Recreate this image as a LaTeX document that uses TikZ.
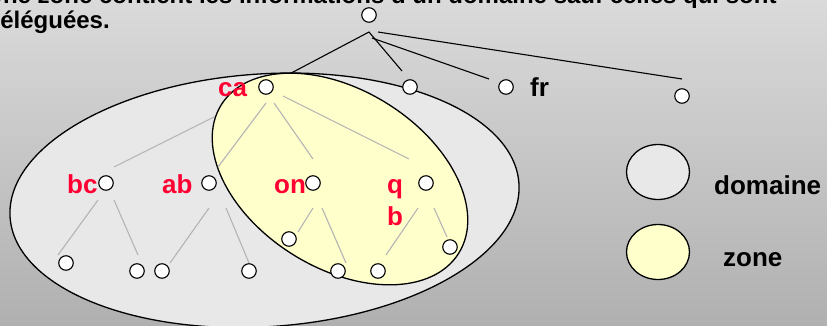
\documentclass[tikz,border=0pt]{standalone}
\usepackage{fontspec}
\setmainfont{Liberation Sans}
\usetikzlibrary{shapes.geometric}
\definecolor{bgtop}{RGB}{218,218,218}
\definecolor{bgbot}{RGB}{176,176,176}
\definecolor{domfill}{RGB}{232,232,232}
\definecolor{zonefill}{RGB}{255,255,204}
\definecolor{treegray}{RGB}{180,180,180}
\definecolor{lblred}{RGB}{255,0,51}
\tikzset{
  dot/.style={circle, draw=black, fill=white, line width=1.1pt, minimum size=14.5pt, inner sep=0pt},
  topline/.style={draw=black, line width=1.1pt},
  grayline/.style={draw=treegray, line width=1.1pt},
  outline/.style={draw=black, line width=1.3pt},
  redlbl/.style={inner sep=0pt, anchor=base west, text=lblred, font=\bfseries\fontsize{26}{31}\selectfont},
  blklbl/.style={inner sep=0pt, anchor=base west, text=black, font=\bfseries\fontsize{26}{31}\selectfont},
  titletxt/.style={inner sep=0pt, anchor=base west, text=black, font=\bfseries\fontsize{24}{28}\selectfont},
  legell/.style={ellipse, outline, minimum width=63pt, minimum height=55pt, inner sep=0pt}
}
\begin{document}
\begin{tikzpicture}[x=1pt,y=-1pt]
\useasboundingbox (0,0) rectangle (827,326);
\clip (0,0) rectangle (827,326);
\shade[top color=bgtop, bottom color=bgbot] (0,0) rectangle (827,326);
% title (cut by the picture's edges)
\node[titletxt] (title1) at (-14.5,3.5) {Une zone contient les informations d'un domaine sauf celles qui sont};
\node[titletxt] (title2) at (-14.5,29) {déléguées.};
% top tree
\node[dot] (root) at (369,15) {};
\coordinate (t0) at (369,32);
\coordinate (tca) at (278,80);
\coordinate (t1e) at (402,71);
\coordinate (t2s) at (372,38);
\coordinate (t2e) at (489,79);
\coordinate (t3s) at (378,32);
\coordinate (t3e) at (682,79);
\draw[topline] (tca) -- (t0) -- (t1e);
\draw[topline] (t2s) -- (t2e);
\draw[topline] (t3s) -- (t3e);
% domain
\draw[outline, fill=domfill, rotate around={3.8:(264.5,200.3)}] (264.5,200.3) ellipse [x radius=255pt, y radius=126.4pt];
% hidden line ca -> bc
\coordinate (cabc1) at (230,109);
\coordinate (cabc2) at (114,167);
\draw[grayline] (cabc1) -- (cabc2);
% zone
\draw[outline, fill=zonefill, rotate around={-32:(340,179)}] (340,179) ellipse [x radius=140pt, y radius=89pt];
% gray tree lines
\coordinate (caab1) at (266,103); \coordinate (caab2) at (218,167);
\coordinate (caon1) at (274,103); \coordinate (caon2) at (313,159);
\coordinate (caq1) at (283,96);   \coordinate (caq2) at (409,159);
\coordinate (bcl1a) at (98,200);  \coordinate (bcl1b) at (58,255);
\coordinate (bcl2a) at (114,200); \coordinate (bcl2b) at (138,255);
\coordinate (abl3a) at (209,208); \coordinate (abl3b) at (170,263);
\coordinate (abl4a) at (226,208); \coordinate (abl4b) at (249,263);
\coordinate (onl5a) at (313,208); \coordinate (onl5b) at (298,232);
\coordinate (onl6a) at (322,208); \coordinate (onl6b) at (346,263);
\coordinate (ql7a) at (418,208);  \coordinate (ql7b) at (386,255);
\coordinate (ql8a) at (434,208);  \coordinate (ql8b) at (447,237);
\draw[grayline] (caab1) -- (caab2);
\draw[grayline] (caon1) -- (caon2);
\draw[grayline] (caq1) -- (caq2);
\draw[grayline] (bcl1a) -- (bcl1b);
\draw[grayline] (bcl2a) -- (bcl2b);
\draw[grayline] (abl3a) -- (abl3b);
\draw[grayline] (abl4a) -- (abl4b);
\draw[grayline] (onl5a) -- (onl5b);
\draw[grayline] (onl6a) -- (onl6b);
\draw[grayline] (ql7a) -- (ql7b);
\draw[grayline] (ql8a) -- (ql8b);
% nodes
\node[dot] (n1) at (410,87) {};
\node[dot] (fr) at (506,87) {};
\node[dot] (n3) at (682,96) {};
\node[dot] (ca) at (266,87) {};
\node[dot] (bc) at (106,183) {};
\node[dot] (ab) at (209,183) {};
\node[dot] (on) at (313,183) {};
\node[dot] (qb) at (426,183) {};
\node[dot] (l1) at (66,263) {};
\node[dot] (l2) at (137,271) {};
\node[dot] (l3) at (162,271) {};
\node[dot] (l4) at (249,271) {};
\node[dot] (l5) at (289,239) {};
\node[dot] (l6) at (338,271) {};
\node[dot] (l7) at (378,271) {};
\node[dot] (l8) at (450,247) {};
% labels
\node[blklbl] (frlbl) at (530,97) {fr};
\node[redlbl] (calbl) at (218,97) {ca};
\node[redlbl] (bclbl) at (67,193) {bc};
\node[redlbl] (ablbl) at (162,193) {ab};
\node[redlbl] (onlbl) at (274,193) {on};
\node[redlbl] (qlbl) at (387,193) {q};
\node[redlbl] (blbl) at (387,225) {b};
% legend
\node[legell, fill=domfill] (legdom) at (658,172) {};
\node[legell, fill=zonefill] (legzone) at (658,252) {};
\node[blklbl] (tdom) at (714,194) {domaine};
\node[blklbl] (tzone) at (723,266) {zone};
\end{tikzpicture}
\end{document}
